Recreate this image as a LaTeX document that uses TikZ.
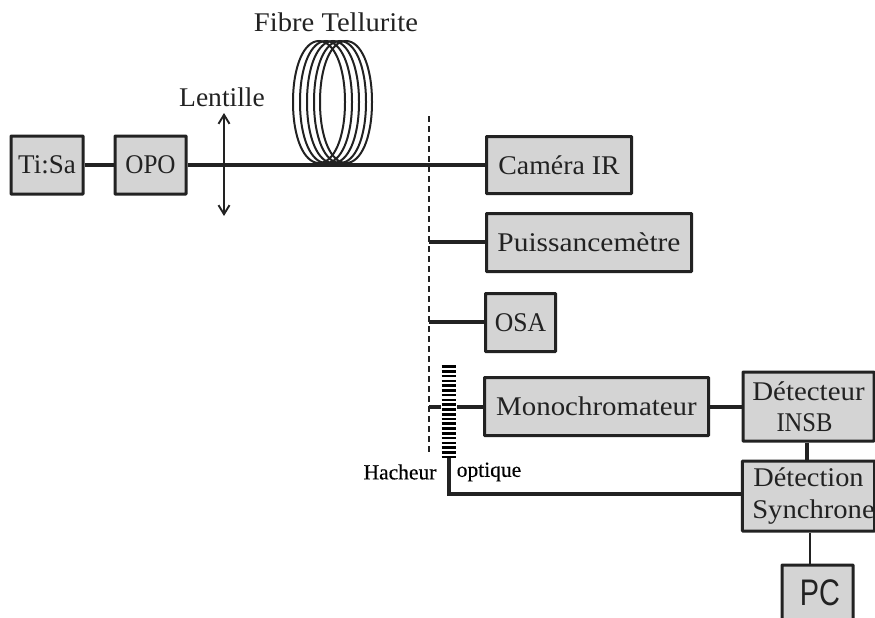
\documentclass[tikz,border=0pt]{standalone}
\usepackage{fontspec}
\usepackage{graphicx}
\setmainfont{Liberation Serif}
\newfontfamily\pcfont{Liberation Sans}
\newfontfamily\heavyfont[FakeBold=0.35]{Liberation Serif}
\newcommand{\hs}[2]{\scalebox{#1}[1]{#2}}
\definecolor{boxfill}{HTML}{D4D4D4}
\definecolor{ink}{HTML}{222222}
\usetikzlibrary{arrows.meta}
\tikzset{
  boxnode/.style={draw=ink,fill=boxfill,line width=3pt,rounded corners=0.6pt,inner sep=0pt,align=center,text=ink,font=\fontsize{27}{31.5}\selectfont},
  wire/.style={draw=ink,line width=3.4pt},
  thinwire/.style={draw=ink,line width=2.6pt},
  coil/.style={draw=ink,line width=2pt},
  label/.style={text=ink,font=\fontsize{27}{30}\selectfont,inner sep=0pt},
  smalllabel/.style={text=black,font=\fontsize{21.5}{24}\selectfont\heavyfont,inner sep=0pt},
}
\begin{document}
\begin{tikzpicture}[x=1pt,y=-1pt]
\useasboundingbox (0,0) rectangle (875,618);
\clip (0,0) rectangle (875,618);
% coil: five slightly flattened loops
\foreach \cx in {319,326,333,340,346}{
  \draw[coil] (\cx-26,102)
    .. controls (\cx-26,102-36) and (\cx-15,41) .. (\cx,41)
    .. controls (\cx+15,41) and (\cx+26,102-36) .. (\cx+26,102)
    .. controls (\cx+26,102+36) and (\cx+15,163) .. (\cx,163)
    .. controls (\cx-15,163) and (\cx-26,102+36) .. (\cx-26,102) -- cycle;
}
% boxes
\node[boxnode,minimum width=72pt,minimum height=58pt] (tisa) at (47,165) {Ti:Sa};
\node[boxnode,minimum width=71pt,minimum height=58pt] (opo) at (150.5,165) {\hs{0.93}{OPO}};
\node[boxnode,minimum width=145pt,minimum height=57pt] (cam) at (559,165) {\hs{1.03}{Caméra IR}};
\node[boxnode,minimum width=205pt,minimum height=58pt] (puis) at (589,242.5) {\hs{1.09}{Puissancemètre}};
\node[boxnode,minimum width=70pt,minimum height=58pt] (osa) at (520.5,322.5) {\hs{0.95}{OSA}};
\node[boxnode,minimum width=224pt,minimum height=58pt] (mono) at (596.5,406.5) {\hs{1.07}{Monochromateur}};
\node[boxnode,minimum width=131pt,minimum height=69pt] (det) at (808.5,406.5) {\hs{1.07}{Détecteur}\\\hs{0.91}{INSB}\hspace*{8pt}};
\node[boxnode,minimum width=131pt,minimum height=70pt] (sync) at (808.5,496) {\hs{1.05}{Détection}\\\hspace*{10pt}\hs{1.06}{Synchrone}};
\node[boxnode,minimum width=71pt,minimum height=55pt,font=\fontsize{37}{40}\selectfont\pcfont] (pc) at (817.5,592.5) {\raisebox{-5pt}{\hspace*{5pt}\hs{0.78}{PC}}};
% dashed line
\coordinate (dashtop) at (429,116);
\coordinate (dashbot) at (429,452);
\draw[ink,line width=1.6pt,dash pattern=on 6pt off 4pt] (dashtop) -- (dashbot);
\coordinate (s1) at (429,242);
\coordinate (s2) at (429,322);
\coordinate (s3) at (429,407);
\coordinate (chopL) at (441,407);
\coordinate (chopR) at (457,407);
% connectors
\draw[wire] (tisa) -- (opo);
\draw[wire] (opo) -- (cam);
\draw[wire] (s1) -- (puis.west |- s1);
\draw[wire] (s2) -- (osa.west |- s2);
\draw[wire] (s3) -- (chopL);
\draw[wire] (chopR) -- (mono.west |- chopR);
\coordinate (monoout) at (mono.east |- s3);
\draw[wire] (monoout) -- (det.west |- monoout);
\draw[wire] (det.south -| 807,0) -- (sync.north -| 807,0);
\coordinate (chop) at (449,457);
\coordinate (corner) at (449,494);
\draw[wire] (chop) -- (corner) -- (sync.west |- corner);
\draw[thinwire] (sync.south -| 810,0) -- (pc.north -| 810,0);
% chopper
\foreach \i in {0,...,19}{
  \draw[black,line width=2.6pt] (441.5,366.5+4.77*\i) -- (456,366.5+4.77*\i);
}
% lens
\coordinate (lenstop) at (224,113);
\coordinate (lensbot) at (224,216);
\draw[ink,line width=1.9pt,{Straight Barb[length=9pt,width=11pt]}-{Straight Barb[length=9pt,width=11pt]}] (lenstop) -- (lensbot);
% labels
\node[label] (fibre) at (336,22) {\hs{1.06}{Fibre Tellurite}};
\node[label] (lent) at (222,97) {\hs{1.02}{Lentille}};
\node[smalllabel] (hach) at (400,472) {Hacheur};
\node[smalllabel] (opt) at (489,472) {optique};
\end{tikzpicture}
\end{document}
